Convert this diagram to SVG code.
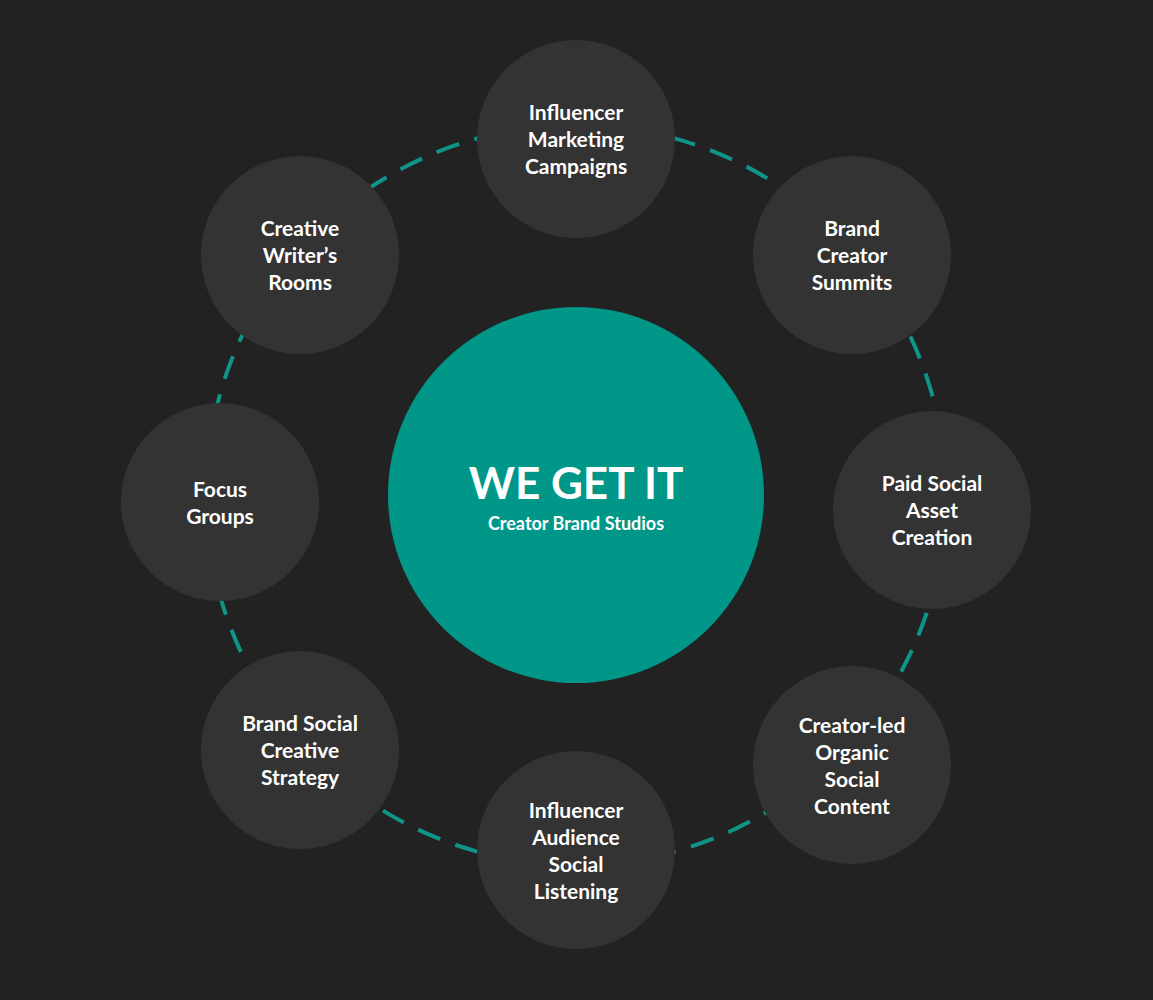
<svg xmlns="http://www.w3.org/2000/svg" width="1153" height="1000" viewBox="0 0 1153 1000">
<style>
.n{fill:#333333}
.t{fill:#ffffff;font-family:Lato,"Liberation Sans",sans-serif;font-weight:bold;font-size:21px;text-anchor:middle}
.c{stroke:#0f9488;stroke-width:4;stroke-dasharray:24 16;fill:none}
</style>
<rect width="1153" height="1000" fill="#222222"/>
<g id="connectors">
<circle class="c" cx="576" cy="495" r="370"/>
</g>
<g id="center"><circle cx="576" cy="495" r="188" fill="#009688"/>
<text x="576" y="499" class="t" style="font-size:44px">WE GET IT</text>
<text x="576" y="530" class="t" style="font-size:18px">Creator Brand Studios</text></g>
<g id="n1"><circle class="n" cx="576" cy="139" r="99"/><text class="t" x="576" y="120">Influencer<tspan x="576" dy="27">Marketing</tspan><tspan x="576" dy="27">Campaigns</tspan></text></g>
<g id="n2"><circle class="n" cx="852" cy="255" r="99"/><text class="t" x="852" y="236">Brand<tspan x="852" dy="27">Creator</tspan><tspan x="852" dy="27">Summits</tspan></text></g>
<g id="n3"><circle class="n" cx="932" cy="510" r="99"/><text class="t" x="932" y="491">Paid Social<tspan x="932" dy="27">Asset</tspan><tspan x="932" dy="27">Creation</tspan></text></g>
<g id="n4"><circle class="n" cx="852" cy="765" r="99"/><text class="t" x="852" y="733">Creator-led<tspan x="852" dy="27">Organic</tspan><tspan x="852" dy="27">Social</tspan><tspan x="852" dy="27">Content</tspan></text></g>
<g id="n5"><circle class="n" cx="576" cy="850" r="99"/><text class="t" x="576" y="818">Influencer<tspan x="576" dy="27">Audience</tspan><tspan x="576" dy="27">Social</tspan><tspan x="576" dy="27">Listening</tspan></text></g>
<g id="n6"><circle class="n" cx="300" cy="750" r="99"/><text class="t" x="300" y="731">Brand Social<tspan x="300" dy="27">Creative</tspan><tspan x="300" dy="27">Strategy</tspan></text></g>
<g id="n7"><circle class="n" cx="220" cy="502" r="99"/><text class="t" x="220" y="497">Focus<tspan x="220" dy="27">Groups</tspan></text></g>
<g id="n8"><circle class="n" cx="300" cy="255" r="99"/><text class="t" x="300" y="236">Creative<tspan x="300" dy="27">Writer’s</tspan><tspan x="300" dy="27">Rooms</tspan></text></g>
</svg>
